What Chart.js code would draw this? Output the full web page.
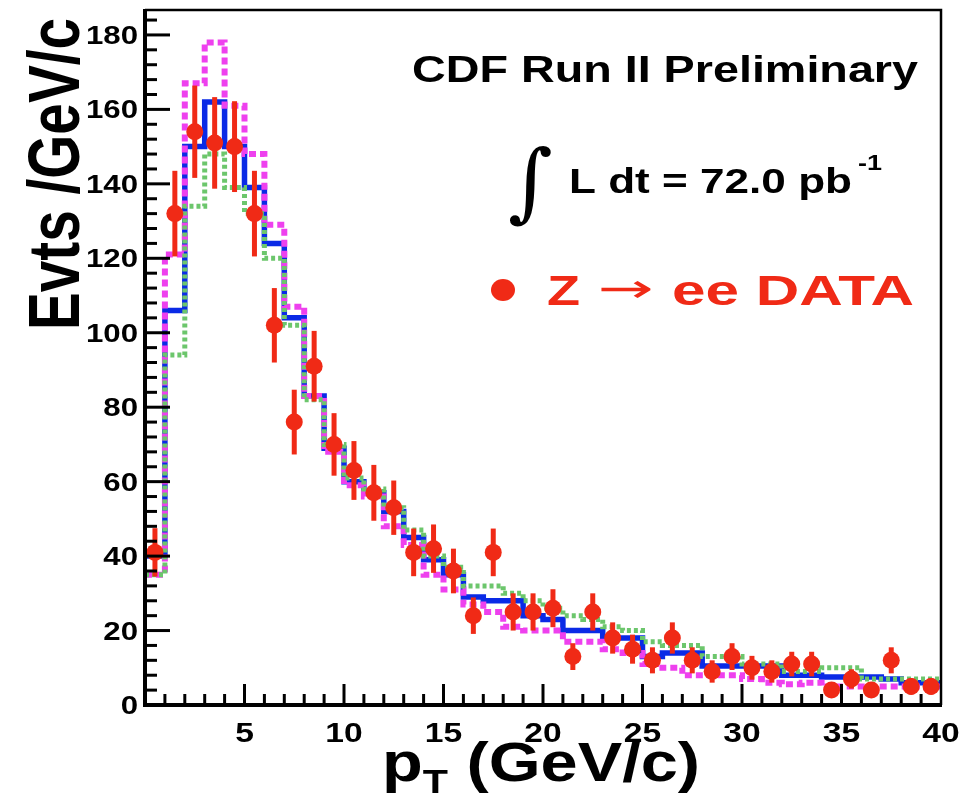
<!DOCTYPE html>
<html>
<head>
<meta charset="utf-8">
<script src="https://cdn.jsdelivr.net/npm/chart.js@4.4.0/dist/chart.umd.min.js"></script>
<style>
  html, body { margin: 0; padding: 0; background: #fff; }
  #wrap { width: 978px; height: 793px; position: relative; }
</style>
</head>
<body>
<div id="wrap"><canvas id="c" width="978" height="793"></canvas></div>
<script>
// bins of 1 GeV/c from 0 to 40
const binLow = [0,1,2,3,4,5,6,7,8,9,10,11,12,13,14,15,16,17,18,19,20,21,22,23,24,25,26,27,28,29,30,31,32,33,34,35,36,37,38,39];
const binWidth = 1;

// Z -> ee data, events per bin and their errors
const dataCounts = [41,132,154,151,150,132,102,76,91,70, 63,57,53,41,42,36,24,41,25,25, 26,13,25,18,15,12,18,12,9,13, 10,9,11,11,4,7,4,12,5,5];
const dataErrors = [6.5,11.5,12.4,12.3,12.2,11.5,10,8.7,9.5,8.4, 7.9,7.5,7.3,6.4,6.5,6,4.9,6.4,5,5, 5.1,3.6,5,4.2,3.9,3.5,4.2,3.5,3,3.6, 3.2,3,3.3,3.3,2,2.6,2,3.5,2.2,2.2];

// simulation histograms
const mcBlue    = [40,106,150,162,150,139,124,104,83,69, 60,57,52,45,39,35,29,28,28,24, 23,20,20,18,18,13,14,14,10.5,10.5, 10.5,10.5,8,8,7.5,7.5,7.5,7,6,6];
const mcMagenta = [35,121,167,178,161,148,129,107,83,68, 59,56,48,43,35,31,27,25,21,20, 20,17,17,15,14,11,10,8,8,8, 7,6,5.6,6,5,5,5,5,5,5];
const mcGreen   = [35,94,134,148,139,132,120,102,82,70, 61,58,53,47,40,37,32,32,30,28, 26,24,23,21,20,17,16,16,13,13, 11,11,9,9,10,10,7,7,7,7];

const yTickLabels = [0,20,40,60,80,100,120,140,160,180];
const xTickLabels = [5,10,15,20,25,30,35,40];

const RED = '#f02a16';
const FONT = '"Liberation Sans", Arial, Helvetica, sans-serif';

function histPoints(arr) {
    const pts = binLow.map((x, i) => ({ x: x, y: arr[i] }));
    pts.push({ x: binLow[binLow.length - 1] + binWidth, y: arr[arr.length - 1] });
    return pts;
}

// draw text squeezed/stretched horizontally
function textSx(ctx, txt, x, y, size, weight, sx, align, color) {
    ctx.save();
    ctx.font = weight + ' ' + size + 'px ' + FONT;
    const w = ctx.measureText(txt).width;
    ctx.translate(x, y);
    ctx.scale(sx, 1);
    ctx.fillStyle = color || '#000';
    ctx.textAlign = 'left';
    ctx.textBaseline = 'alphabetic';
    let dx = 0;
    if (align === 'right') dx = -w;
    if (align === 'center') dx = -w / 2;
    ctx.fillText(txt, dx, 0);
    ctx.restore();
}
function textFit(ctx, txt, x, y, size, weight, width, color, family) {
    ctx.save();
    ctx.font = weight + ' ' + size + 'px ' + (family || FONT);
    const w = ctx.measureText(txt).width;
    ctx.translate(x, y);
    ctx.scale(width / w, 1);
    ctx.fillStyle = color || '#000';
    ctx.textAlign = 'left';
    ctx.textBaseline = 'alphabetic';
    ctx.fillText(txt, 0, 0);
    ctx.restore();
}

const errorBars = {
    id: 'errorBars',
    beforeDatasetDraw(chart, args) {
        if (args.index !== 0) return;
        const ctx = chart.ctx, xs = chart.scales.x, ys = chart.scales.y;
        ctx.save();
        ctx.strokeStyle = RED;
        ctx.lineWidth = 5;
        dataCounts.forEach((v, i) => {
            const px = xs.getPixelForValue(binLow[i] + binWidth / 2);
            ctx.beginPath();
            ctx.moveTo(px, ys.getPixelForValue(v - dataErrors[i]));
            ctx.lineTo(px, ys.getPixelForValue(v + dataErrors[i]));
            ctx.stroke();
        });
        ctx.restore();
    }
};

const frameAndText = {
    id: 'frameAndText',
    afterDraw(chart) {
        const ctx = chart.ctx, xs = chart.scales.x, ys = chart.scales.y;
        const a = chart.chartArea;
        ctx.save();
        ctx.strokeStyle = '#000';
        ctx.lineCap = 'butt';
        // frame
        ctx.lineWidth = 2.5;
        ctx.beginPath();
        ctx.moveTo(a.left, a.top); ctx.lineTo(a.right, a.top); ctx.lineTo(a.right, a.bottom);
        ctx.stroke();
        ctx.lineWidth = 4;
        ctx.beginPath();
        ctx.moveTo(a.left, a.top - 1); ctx.lineTo(a.left, a.bottom); ctx.lineTo(a.right + 1, a.bottom);
        ctx.stroke();
        // ticks inward
        ctx.lineWidth = 3;
        for (let v = 0; v <= ys.max; v += 4) {
            const py = ys.getPixelForValue(v);
            const len = v % 20 === 0 ? 25 : 12;
            ctx.beginPath(); ctx.moveTo(a.left, py); ctx.lineTo(a.left + len, py); ctx.stroke();
        }
        for (let v = 1; v < xs.max; v += 1) {
            const px = xs.getPixelForValue(v);
            const len = v % 5 === 0 ? 21 : 11;
            ctx.beginPath(); ctx.moveTo(px, a.bottom); ctx.lineTo(px, a.bottom - len); ctx.stroke();
        }
        // tick labels
        yTickLabels.forEach(v => {
            textSx(ctx, String(v), a.left - 7, ys.getPixelForValue(v) + 9, 26, 'bold', 1.2, 'right');
        });
        xTickLabels.forEach(v => {
            textSx(ctx, String(v), xs.getPixelForValue(v), 742, 28, 'bold', 1.2, 'center');
        });
        // y title (rotated)
        ctx.save();
        ctx.translate(79, 330);
        ctx.rotate(-Math.PI / 2);
        textFit(ctx, 'Evts /GeV/c', 0, 0, 73, 'bold', 312);
        ctx.restore();
        // x title p_T (GeV/c)
        ctx.save();
        ctx.font = 'bold 55px ' + FONT;
        const wp = ctx.measureText('p').width;
        const wr = ctx.measureText(' (GeV/c)').width;
        ctx.font = 'bold 34px ' + FONT;
        const wt = ctx.measureText('T').width;
        const sx = 318 / (wp + wt + wr);
        ctx.translate(382, 781);
        ctx.scale(sx, 1);
        ctx.fillStyle = '#000';
        ctx.textBaseline = 'alphabetic';
        ctx.font = 'bold 55px ' + FONT;
        ctx.fillText('p', 0, 0);
        ctx.fillText(' (GeV/c)', wp + wt, 0);
        ctx.font = 'bold 34px ' + FONT;
        ctx.fillText('T', wp, 12);
        ctx.restore();
        // annotations
        textFit(ctx, 'CDF Run II Preliminary', 412, 82, 36, 'bold', 506);
        ctx.save();
        ctx.font = '86px "DejaVu Serif", "Liberation Serif", serif';
        ctx.fillStyle = '#000';
        ctx.textBaseline = 'alphabetic';
        ctx.fillText('\u222B', 508, 211);
        ctx.restore();
        textFit(ctx, 'L dt = 72.0 pb', 569, 193, 35, 'bold', 283);
        textFit(ctx, '-1', 858, 170, 22, 'bold', 24);
        ctx.fillStyle = RED;
        ctx.beginPath(); ctx.ellipse(503, 290, 12, 11, 0, 0, Math.PI * 2); ctx.fill();
        textFit(ctx, 'Z', 547, 305, 43, 'bold', 33, RED);
        textFit(ctx, '\u2192', 598, 302, 40, 'normal', 56, RED, '"DejaVu Sans", sans-serif');
        textFit(ctx, 'ee DATA', 672, 305, 43, 'bold', 242, RED);
        ctx.restore();
    }
};

new Chart(document.getElementById('c'), {
    type: 'line',
    data: {
        datasets: [
            {
                label: 'Z \u2192 ee DATA',
                data: binLow.map((x, i) => ({ x: x + binWidth / 2, y: dataCounts[i] })),
                showLine: false,
                pointRadius: 8.5,
                pointStyle: 'circle',
                pointBackgroundColor: RED,
                pointBorderColor: RED,
                pointBorderWidth: 0
            },
            {
                label: 'green',
                data: histPoints(mcGreen),
                stepped: 'before',
                borderColor: '#6cc66c',
                borderWidth: 5,
                borderDash: [4, 3],
                pointRadius: 0,
                fill: false
            },
            {
                label: 'magenta',
                data: histPoints(mcMagenta),
                stepped: 'before',
                borderColor: '#ee40ee',
                borderWidth: 6,
                borderDash: [7, 4],
                pointRadius: 0,
                fill: false
            },
            {
                label: 'blue',
                data: histPoints(mcBlue),
                stepped: 'before',
                borderColor: '#0a2ae6',
                borderWidth: 5.5,
                pointRadius: 0,
                fill: false
            }
        ]
    },
    options: {
        responsive: false,
        animation: false,
        layout: { padding: { top: 10, right: 37, left: 0, bottom: 0 } },
        plugins: { legend: { display: false }, tooltip: { enabled: false } },
        scales: {
            x: {
                type: 'linear', min: 0, max: 40,
                grid: { display: false }, border: { display: false },
                ticks: { display: false },
                afterFit(scale) { scale.height = 88; }
            },
            y: {
                type: 'linear', min: 0, max: 186.7,
                grid: { display: false }, border: { display: false },
                ticks: { display: false },
                afterFit(scale) { scale.width = 145; }
            }
        }
    },
    plugins: [errorBars, frameAndText]
});
</script>
</body>
</html>
